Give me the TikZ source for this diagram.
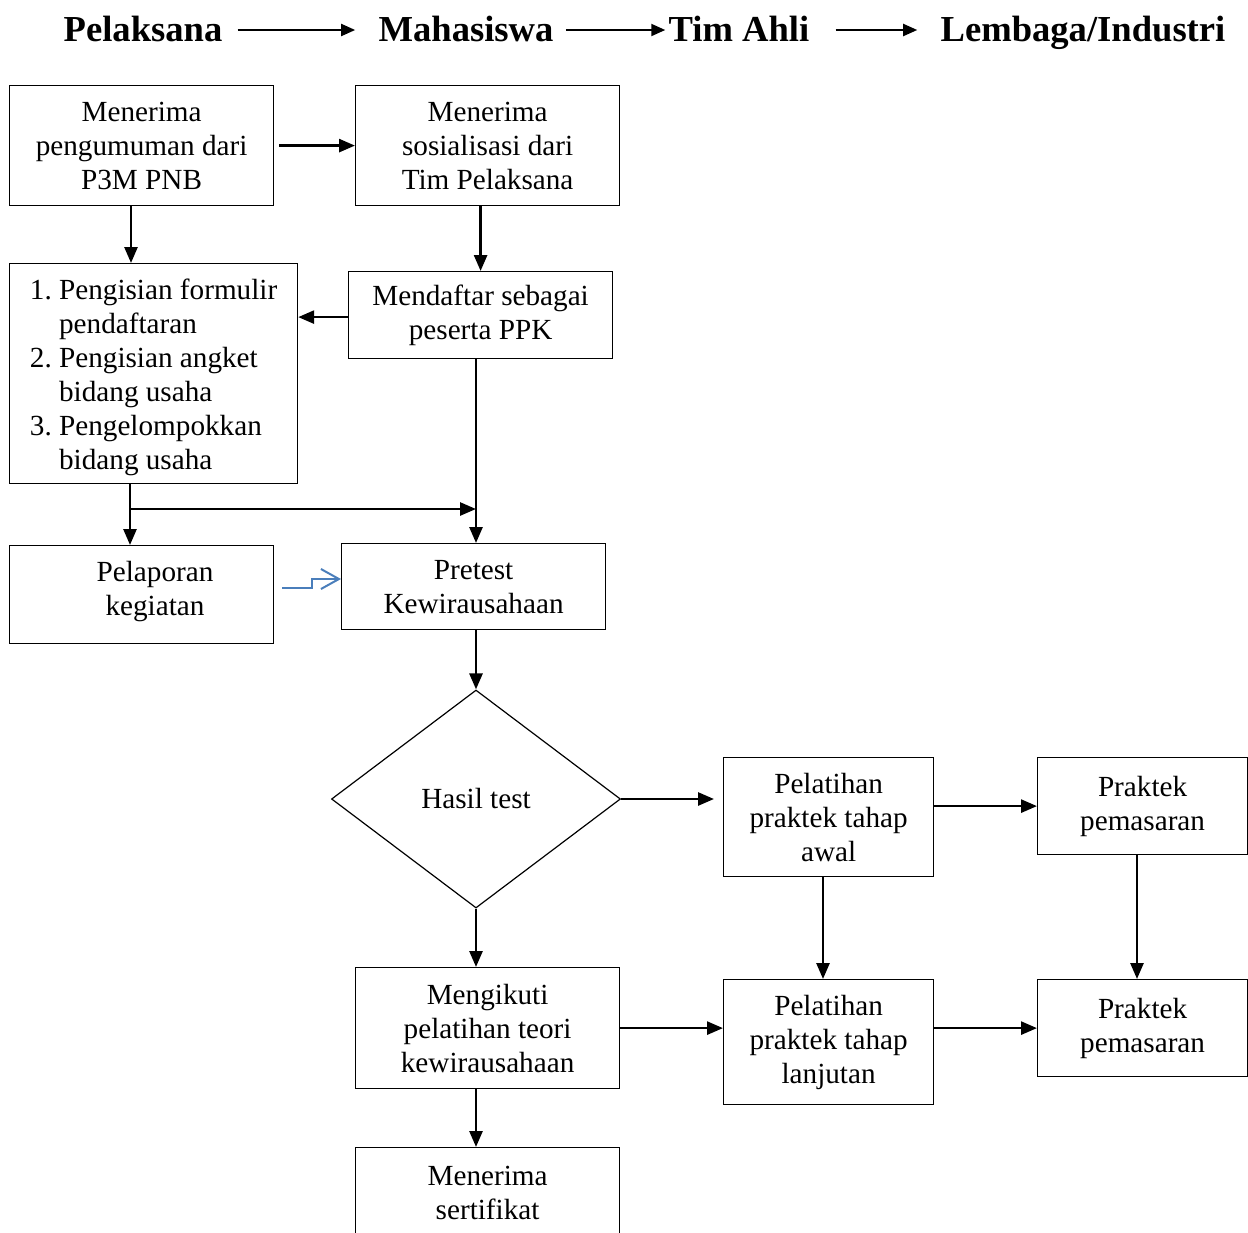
\documentclass[tikz,border=0pt]{standalone}
\usepackage{fontspec}
\setmainfont{Liberation Serif}
\usetikzlibrary{arrows.meta,shapes.geometric}
\begin{document}
\begin{tikzpicture}[x=0.5pt,y=-0.5pt,
 box/.style={draw, line width=0.6pt, anchor=north west, inner sep=0pt, align=center, font=\fontsize{14.6}{17}\selectfont},
 txt/.style={inner sep=0pt, align=center, font=\fontsize{14.6}{17}\selectfont},
 arr/.style={line width=1.35pt, -{Triangle[length=8pt,width=6.5pt]}},
 hdr/.style={font=\fontsize{18.3}{22}\selectfont\bfseries, anchor=base, inner sep=0pt},
 harr/.style={line width=1pt, -{Triangle[length=7pt,width=6pt]}},
 bluearr/.style={draw=bluecol, line width=1pt, -{Straight Barb[length=9pt,width=10pt,line width=1pt]}}
]
\definecolor{bluecol}{HTML}{4A7EBB}
\useasboundingbox (0,0) rectangle (1248,1232);

% header
\node[hdr] (h1) at (143,41) {Pelaksana};
\node[hdr] (h2) at (466,41) {Mahasiswa};
\node[hdr] (h3) at (739,41) {Tim Ahli};
\node[hdr] (h4) at (1083,41) {Lembaga/Industri};
\coordinate (hy) at (0,30);
\draw[harr] ([xshift=7.5pt]h1.east |- hy) -- ([xshift=-11.5pt]h2.west |- hy);
\draw[harr] ([xshift=6pt]h2.east |- hy) -- ([xshift=-1.5pt]h3.west |- hy);
\draw[harr] ([xshift=13pt]h3.east |- hy) -- ([xshift=-11.5pt]h4.west |- hy);

% boxes
\node[box, minimum width=132pt, minimum height=60pt] (A) at (9,85) {Menerima\\pengumuman dari\\P3M PNB};
\node[box, minimum width=132pt, minimum height=60pt] (B) at (355,85) {Menerima\\sosialisasi dari\\Tim Pelaksana};
\node[box, minimum width=144pt, minimum height=110pt] (C) at (9,263) {\raisebox{-2pt}[\height][\depth]{\begin{tabular}{@{}r@{\ }l@{}}1. & Pengisian formulir\\ & pendaftaran\\2. & Pengisian angket\\ & bidang usaha\\3. & Pengelompokkan\\ & bidang usaha\end{tabular}}};
\node[box, minimum width=132pt, minimum height=43.5pt] (D) at (348,271) {Mendaftar sebagai\\peserta PPK};
\node[box, minimum width=132pt, minimum height=49pt] (E) at (9,545) {};
\node[txt] (Et) at (155,592) {Pelaporan\\kegiatan};
\node[box, minimum width=132pt, minimum height=43pt] (F) at (341,543) {Pretest\\Kewirausahaan};
\node[draw, line width=0.6pt, diamond, inner sep=0pt, minimum width=144.5pt, minimum height=109pt, shape aspect=1.33, font=\fontsize{14.6}{17}\selectfont] (G) at (476,799) {Hasil test};
\node[box, minimum width=105pt, minimum height=59.5pt] (H) at (723,757) {Pelatihan\\praktek tahap\\awal};
\node[box, minimum width=105pt, minimum height=48.5pt] (I) at (1037,757) {Praktek\\pemasaran};
\node[box, minimum width=132pt, minimum height=60.5pt] (J) at (355,967) {Mengikuti\\pelatihan teori\\kewirausahaan};
\node[box, minimum width=105pt, minimum height=62.5pt] (K) at (723,979) {Pelatihan\\praktek tahap\\lanjutan};
\node[box, minimum width=105pt, minimum height=48.5pt] (L) at (1037,979) {Praktek\\pemasaran};
\node[box, minimum width=132pt, minimum height=45pt] (M) at (355,1147) {Menerima\\sertifikat};

% helper coordinates
\coordinate (x131) at (131,0);
\coordinate (x130) at (130,0);
\coordinate (x476) at (476,0);
\coordinate (x823) at (823,0);
\coordinate (x1137) at (1137,0);
\coordinate (jL) at (130,509);
\coordinate (jR) at (476,509);
\coordinate (bs) at (282,588);
\coordinate (bm1) at (312,588);
\coordinate (bm2) at (312,579);

% connectors
\draw[arr] ([xshift=2.5pt]A.east) -- (B.west);
\draw[arr] (A.south -| x131) -- (C.north -| x131);
\draw[arr] (B.south -| D.north) -- (D.north);
\draw[arr] ([yshift=-1pt]D.west) -- ([yshift=-1pt]C.east |- D.west);
\draw[arr] (C.south -| x130) -- (E.north -| x130);
\draw[arr] (jL) -- (jR);
\draw[arr] (D.south -| x476) -- (F.north -| x476);
\draw[bluearr] (bs) -- (bm1) -- (bm2) -- (F.west |- bm2);
\draw[arr] (F.south -| G.north) -- (G.north);
\draw[arr] (G.east) -- ([xshift=-4.5pt]G.east -| H.west);
\draw[arr] (I.west -| H.east) -- (I.west);
\draw[arr] (G.south) -- (G.south |- J.north);
\draw[arr] (H.south -| x823) -- (K.north -| x823);
\draw[arr] (I.south -| x1137) -- (L.north -| x1137);
\draw[arr] (J.east) -- (J.east -| K.west);
\draw[arr] (L.west -| K.east) -- (L.west);
\draw[arr] (J.south -| G.south) -- (M.north -| G.south);
\end{tikzpicture}
\end{document}
